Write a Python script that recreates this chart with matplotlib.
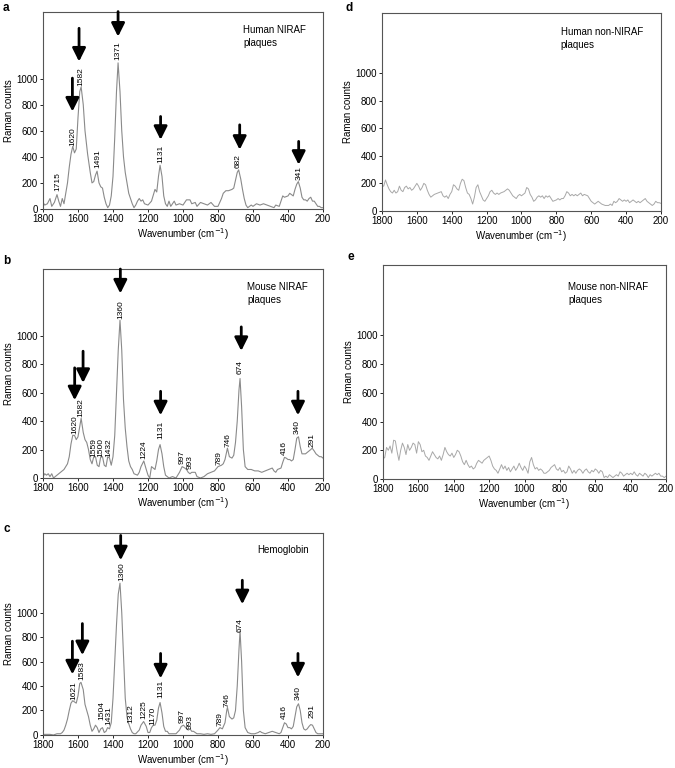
import numpy as np
import matplotlib
matplotlib.use('Agg')
import matplotlib.pyplot as plt

plt.rcParams['font.family'] = ['Liberation Sans', 'DejaVu Sans']
plt.rcParams['font.size'] = 7

# ---- spectra (wavenumber cm-1, Raman counts) ----
human_wn = [1800, 1790, 1775, 1760, 1750, 1735, 1720, 1710, 1700, 1690, 1680, 1670, 1660, 1650,
            1640, 1630, 1620, 1610, 1600, 1590, 1582, 1570, 1560, 1545, 1530, 1520, 1510, 1500,
            1491, 1480, 1470, 1460, 1450, 1440, 1430, 1420, 1410, 1400, 1390, 1380, 1371, 1360,
            1350, 1340, 1330, 1320, 1310, 1300, 1290, 1280, 1270, 1260, 1250, 1240, 1230, 1220,
            1200, 1180, 1160, 1150, 1140, 1131, 1120, 1110, 1100, 1090, 1080, 1070, 1060, 1050,
            1040, 1020, 1000, 980, 960, 950, 930, 920, 900, 880, 860, 840, 820, 800, 790, 780,
            770, 755, 740, 720, 710, 700, 690, 682, 670, 660, 650, 640, 630, 610, 600, 580, 560,
            540, 520, 500, 480, 470, 450, 440, 430, 420, 400, 390, 380, 370, 360, 350, 341, 330,
            320, 310, 300, 290, 280, 270, 260, 250, 240, 230, 220, 210, 200]
human_ct = [50, 30, 40, 80, 20, 50, 110, 60, 20, 80, 40, 120, 200, 320,
            420, 480, 430, 460, 700, 900, 935, 800, 600, 420, 280, 200, 210, 260,
            290, 200, 170, 160, 90, 40, 10, 30, 100, 250, 550, 900, 1120, 900,
            600, 400, 280, 200, 120, 80, 40, 10, 30, 60, 80, 60, 70, 40,
            30, 60, 150, 130, 250, 335, 250, 100, 40, 20, 60, 20, 40, 60,
            30, 40, 30, 70, 70, 40, 50, 20, 50, 40, 30, 50, 20, 20, 50, 80,
            120, 140, 140, 150, 160, 220, 280, 300, 230, 150, 80, 30, 10, 30, 20, 40, 30,
            40, 30, 20, 10, 30, 20, 60, 100, 90, 100, 120, 110, 100, 150, 190, 210, 160,
            90, 70, 70, 60, 80, 90, 60, 60, 40, 20, 20, 10, 10]

mouse_wn = [1800, 1790, 1780, 1770, 1760, 1750, 1740, 1730, 1720, 1700, 1680, 1660, 1650, 1640,
            1630, 1620, 1610, 1600, 1590, 1582, 1570, 1560, 1550, 1540, 1530, 1520, 1510, 1500,
            1490, 1480, 1470, 1460, 1450, 1440, 1430, 1420, 1410, 1400, 1390, 1380, 1370, 1360,
            1350, 1340, 1330, 1320, 1310, 1300, 1290, 1280, 1260, 1250, 1240, 1224, 1210, 1200,
            1190, 1180, 1170, 1160, 1150, 1140, 1131, 1120, 1110, 1100, 1090, 1080, 1060, 1040,
            1020, 1005, 990, 980, 970, 960, 950, 930, 920, 900, 880, 860, 840, 820, 800, 780,
            770, 760, 746, 735, 720, 710, 700, 690, 680, 674, 665, 655, 645, 630, 610, 590,
            570, 550, 530, 510, 490, 480, 470, 460, 440, 430, 420, 410, 400, 390, 380, 370,
            360, 350, 340, 330, 320, 310, 300, 290, 280, 270, 262, 250, 240, 230, 220, 210, 200]
mouse_ct = [10, 30, 20, 30, 10, 30, 0, 10, 20, 40, 60, 100, 150, 240,
            300, 300, 270, 290, 360, 420, 320, 270, 250, 200, 130, 100, 150, 150,
            90, 80, 150, 150, 90, 80, 150, 140, 90, 150, 300, 600, 900, 1110,
            900, 550, 350, 220, 120, 80, 60, 30, 20, 40, 80, 120, 60, 20,
            0, 80, 70, 60, 120, 200, 235, 170, 80, 20, 10, 0, 10, 0,
            40, 80, 70, 60, 40, 30, 40, 40, 10, 0, 10, 30, 40, 50, 80, 90,
            100, 130, 210, 150, 140, 160, 250, 400, 620, 700, 500, 200, 80, 60, 60, 50,
            50, 40, 50, 60, 70, 50, 40, 60, 70, 110, 145, 140, 130, 130, 120, 130,
            200, 280, 290, 220, 170, 170, 170, 180, 190, 200, 210, 190, 170, 160, 150, 150, 140]

hemo_wn = [1800, 1760, 1740, 1720, 1700, 1690, 1680, 1670, 1660, 1650, 1640, 1630, 1620, 1610,
           1600, 1590, 1583, 1570, 1560, 1550, 1540, 1530, 1520, 1510, 1500, 1490, 1480, 1470,
           1460, 1450, 1440, 1431, 1420, 1410, 1400, 1390, 1380, 1370, 1360, 1350, 1340, 1330,
           1320, 1312, 1300, 1290, 1280, 1270, 1250, 1240, 1225, 1210, 1200, 1190, 1180, 1170,
           1160, 1150, 1140, 1131, 1120, 1110, 1100, 1090, 1080, 1060, 1040, 1020, 1010, 997,
           985, 970, 960, 950, 940, 920, 900, 880, 860, 840, 820, 800, 789, 775, 760, 750,
           746, 735, 720, 710, 700, 690, 680, 674, 665, 655, 645, 630, 610, 590, 570, 560,
           550, 530, 510, 490, 470, 450, 440, 430, 420, 410, 400, 390, 380, 370, 360, 350,
           340, 330, 320, 310, 300, 290, 280, 270, 260, 250, 240, 230, 220, 200]
hemo_ct = [5, 5, 0, 10, 10, 20, 40, 80, 130, 200, 260, 280, 270, 260,
           320, 420, 430, 370, 250, 200, 150, 80, 30, 50, 80, 60, 20, 50,
           60, 20, 30, 60, 50, 100, 300, 600, 900, 1150, 1240, 1000, 650, 300,
           150, 100, 50, 20, 10, 10, 40, 80, 110, 70, 20, 20, 60, 80,
           80, 120, 220, 265, 180, 70, 30, 30, 10, 10, 10, 40, 70, 80,
           60, 40, 50, 30, 30, 10, 10, 5, 10, 5, 10, 40, 60, 50, 100, 200,
           225, 150, 130, 140, 200, 400, 700, 850, 600, 200, 60, 20, 10, 10, 20, 30,
           20, 10, 20, 30, 20, 10, 20, 60, 100, 90, 60, 60, 50, 70, 150, 230,
           255, 200, 100, 50, 40, 50, 70, 85, 80, 50, 20, 10, 10, 10]

human_non_wn = list(range(1800, 190, -10))
human_non_ct = [180, 180, 225, 190, 160, 140, 130, 150, 130, 140, 180, 150, 140, 170, 180, 160,
                170, 150, 160, 180, 200, 180, 150, 170, 200, 190, 150, 120, 100, 110, 120, 125,
                130, 135, 140, 110, 100, 110, 90, 120, 140, 190, 180, 160, 150, 200, 230, 220,
                170, 130, 120, 90, 50, 100, 170, 190, 140, 110, 80, 70, 90, 110, 140, 150,
                130, 120, 130, 120, 130, 135, 140, 150, 160, 150, 130, 110, 100, 90, 110, 120,
                110, 120, 130, 170, 160, 120, 100, 70, 80, 100, 110, 100, 110, 90, 110, 100,
                110, 90, 70, 75, 80, 90, 80, 90, 90, 110, 140, 130, 110, 120, 110, 120,
                110, 120, 130, 110, 120, 115, 110, 90, 70, 60, 50, 60, 70, 60, 50, 45,
                40, 40, 40, 50, 40, 70, 60, 70, 90, 80, 70, 80, 70, 80, 60, 70,
                80, 70, 60, 70, 60, 70, 80, 90, 70, 60, 50, 40, 50, 70, 60, 60, 55]

mouse_non_wn = list(range(1800, 190, -10))
mouse_non_ct = [140, 150, 220, 200, 230, 180, 270, 265, 190, 130, 200, 250, 220, 170, 240, 200,
                220, 250, 240, 180, 260, 240, 190, 200, 160, 150, 130, 160, 190, 170, 150, 140,
                160, 130, 170, 220, 190, 170, 160, 180, 150, 170, 200, 190, 160, 120, 100, 130,
                100, 80, 90, 70, 80, 110, 130, 120, 110, 130, 140, 150, 160, 130, 90, 70,
                60, 40, 70, 100, 70, 90, 60, 80, 50, 70, 90, 60, 80, 110, 80, 60,
                90, 70, 40, 120, 150, 100, 70, 80, 60, 70, 60, 40, 40, 50, 60, 80,
                90, 100, 70, 60, 80, 50, 60, 40, 50, 90, 70, 40, 60, 40, 60, 70,
                60, 40, 60, 70, 50, 40, 60, 50, 70, 60, 40, 60, 50, 10, 20, 10,
                30, 20, 10, 20, 30, 20, 50, 40, 20, 30, 40, 30, 40, 30, 50, 30,
                20, 40, 30, 20, 40, 30, 10, 30, 20, 30, 40, 30, 40, 20, 20, 10, 20]

# peak labels: (label text, x position, label base height)
human_peaks = [('1715', 1714, 135), ('1620', 1629, 485), ('1582', 1585, 944), ('1491', 1486, 314),
               ('1371', 1371, 1143), ('1131', 1128, 352), ('682', 686, 314), ('341', 337, 224)]
mouse_peaks = [('1620', 1619, 312), ('1582', 1581, 430), ('1559', 1507, 150), ('1500', 1467, 150),
               ('1432', 1425, 150), ('1360', 1356, 1122), ('1224', 1225, 136), ('1131', 1128, 277),
               ('997', 1004, 100), ('993', 958, 60), ('789', 796, 90), ('746', 743, 218),
               ('674', 672, 735), ('416', 419, 160), ('340', 347, 312), ('291', 263, 218)]
hemo_peaks = [('1621', 1625, 285), ('1583', 1578, 448), ('1504', 1466, 122), ('1431', 1422, 81),
              ('1360', 1352, 1258), ('1312', 1299, 95), ('1225', 1225, 128), ('1170', 1171, 81),
              ('1131', 1128, 299), ('997', 1004, 95), ('993', 958, 46), ('789', 790, 73),
              ('746', 747, 226), ('674', 672, 842), ('416', 419, 128), ('340', 341, 285),
              ('291', 263, 136)]

# arrows: (x, top, tip)
human_arrows = [(1632, 1003, 747), (1594, 1385, 1130), (1371, 1513, 1321),
                (1128, 709, 530), (676, 645, 454), (339, 518, 339)]
mouse_arrows = [(1619, 775, 547), (1571, 892, 669), (1358, 1470, 1298),
                (1128, 610, 441), (667, 1063, 894), (343, 610, 441)]
hemo_arrows = [(1632, 766, 495), (1575, 910, 652), (1356, 1630, 1427),
               (1128, 666, 462), (661, 1264, 1068), (343, 666, 470)]


def setup_axes(ax, ymax, title, tx, ty):
    ax.set_xlim(1800, 200)
    ax.set_ylim(0, ymax)
    ax.set_xticks(range(1800, 199, -200))
    ax.set_yticks(range(0, 1001, 200))
    ax.tick_params(direction='out', length=2, width=0.6, labelsize=7, pad=1.5)
    for s in ax.spines.values():
        s.set_color('#555555')
        s.set_linewidth(0.8)
    ax.set_xlabel('Wavenumber (cm$^{-1}$)', fontsize=7, labelpad=1.5)
    ax.set_ylabel('Raman counts', fontsize=7, labelpad=2)
    ax.text(tx, ty, title, transform=ax.transAxes, fontsize=7, va='top', ha='left',
            linespacing=1.4)


def draw_peaks(ax, peaks, arrows):
    for txt, x, y in peaks:
        ax.text(x, y, txt, rotation=90, ha='center', va='bottom', fontsize=6)
    for x, top, tip in arrows:
        ax.annotate('', xy=(x, tip), xytext=(x, top), annotation_clip=False,
                    arrowprops=dict(arrowstyle='-|>,head_length=0.8,head_width=0.4',
                                    lw=2, color='black', shrinkA=0, shrinkB=0,
                                    mutation_scale=10))


fig = plt.figure(figsize=(6.75, 7.68), dpi=100)

ax_a = fig.add_axes([0.0637, 0.7279, 0.4148, 0.2565])
ax_a.plot(human_wn, human_ct, color='#8a8a8a', lw=0.8)
setup_axes(ax_a, 1510, 'Human NIRAF\nplaques', 0.714, 0.935)
draw_peaks(ax_a, human_peaks, human_arrows)

ax_b = fig.add_axes([0.0637, 0.3776, 0.4148, 0.2721])
ax_b.plot(mouse_wn, mouse_ct, color='#8a8a8a', lw=0.8)
setup_axes(ax_b, 1470, 'Mouse NIRAF\nplaques', 0.73, 0.94)
draw_peaks(ax_b, mouse_peaks, mouse_arrows)

ax_c = fig.add_axes([0.0637, 0.0430, 0.4148, 0.2630])
ax_c.plot(hemo_wn, hemo_ct, color='#8a8a8a', lw=0.8)
setup_axes(ax_c, 1650, 'Hemoglobin', 0.765, 0.94)
draw_peaks(ax_c, hemo_peaks, hemo_arrows)

ax_d = fig.add_axes([0.5659, 0.7253, 0.4133, 0.2578])
ax_d.plot(human_non_wn, human_non_ct, color='#a8a8a8', lw=0.7)
setup_axes(ax_d, 1435, 'Human non-NIRAF\nplaques', 0.64, 0.93)

ax_e = fig.add_axes([0.5674, 0.3763, 0.4193, 0.2786])
ax_e.plot(mouse_non_wn, mouse_non_ct, color='#a8a8a8', lw=0.7)
setup_axes(ax_e, 1490, 'Mouse non-NIRAF\nplaques', 0.655, 0.92)

# panel letters, placed in figure pixels
W, H = 675, 768
for letter, px, py in [('a', 3, 2), ('b', 3, 255), ('c', 3, 523), ('d', 345, 2), ('e', 347, 251)]:
    fig.text(px / W, 1 - py / H, letter, fontsize=8.5, fontweight='bold', va='top', ha='left')

fig.savefig('out.png', dpi=100)
